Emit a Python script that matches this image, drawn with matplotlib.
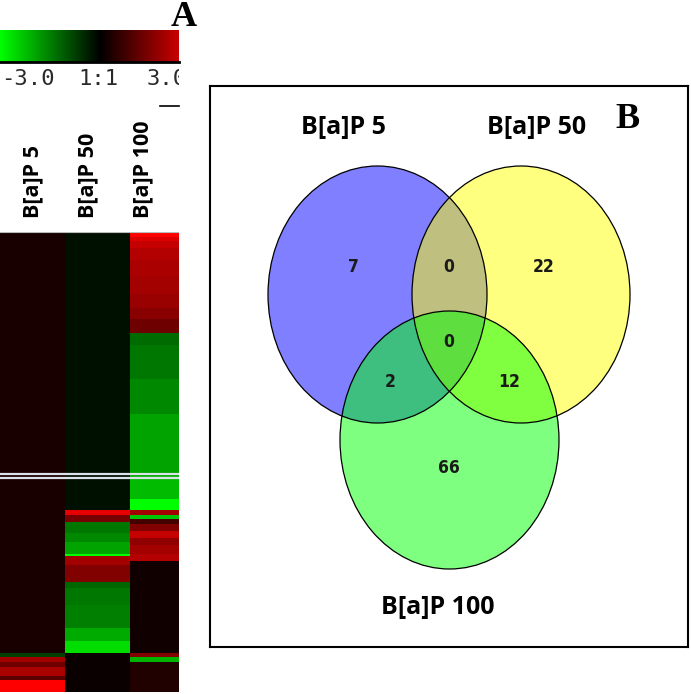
"""Heatmap of B[a]P fold changes (A) next to the Venn overlap of
responsive genes (B). Values read off the published figure."""
import matplotlib
matplotlib.use("Agg")
import matplotlib.pyplot as plt
import numpy as np
from matplotlib.colors import LinearSegmentedColormap
from matplotlib.patches import Ellipse

W, H = 691, 694

# ---- data -----------------------------------------------------------------
SAMPLES = ["B[a]P 5", "B[a]P 50", "B[a]P 100"]

# log ratios per column, stored as (value, number of rows) runs, top to bottom
BAP5_RUNS = [(0.3, 183), (-0.75, 2), (1.9, 2), (1.3, 2), (2.0, 4), (1.1, 2), (3.0, 5)]
BAP50_RUNS = [(-0.19, 121), (2.7, 2), (1.4, 3), (-1.4, 5), (-1.6, 4), (-1.9, 5),
              (-3.0, 1), (1.9, 4), (1.5, 7), (-1.2, 3), (-1.4, 7), (-1.5, 10),
              (-2.0, 6), (-2.6, 5), (0.12, 17)]
BAP100_RUNS = [(3.0, 2), (2.6, 2), (2.3, 3), (2.1, 5), (2.0, 7), (1.9, 8), (1.8, 6),
               (1.6, 5), (1.3, 6), (-1.25, 5), (-1.4, 15), (-1.6, 15), (-1.9, 27),
               (-2.2, 10), (-3.0, 5), (1.9, 2), (-2.3, 2), (0.8, 2), (1.5, 3),
               (2.3, 3), (1.7, 3), (1.9, 4), (2.1, 3), (0.19, 40), (1.5, 2),
               (-2.1, 2), (0.38, 13)]

CBAR_TICKS = ["-3.0", "1:1", "3.0"]
VMIN, VMAX = -3.0, 3.0

# Venn counts: 5 only, 5&50, 50 only, all three, 5&100, 50&100, 100 only
VENN_COUNTS = [7, 0, 22, 0, 2, 12, 66]


def expand(runs):
    return np.concatenate([np.full(n, v) for v, n in runs])


mat = np.column_stack([expand(BAP5_RUNS), expand(BAP50_RUNS), expand(BAP100_RUNS)])
n_rows = mat.shape[0]

cmap = LinearSegmentedColormap.from_list("gr", [(0, 1, 0), (0, 0, 0), (1, 0, 0)])


def box(x0, y0, x1, y1):
    """pixel box (top-left origin) -> figure rect"""
    return [x0 / W, 1 - y1 / H, (x1 - x0) / W, (y1 - y0) / H]


fig = plt.figure(figsize=(W / 100, H / 100), dpi=100)

# ---- A: colour bar (cropped at the right, like the original) ---------------
cb_right = -3 + 179 * 0.03
cax = fig.add_axes(box(0, 30, 179, 62))
grad = np.linspace(VMIN, VMAX, 256)[None, :]
cax.imshow(grad, aspect="auto", cmap=cmap, vmin=VMIN, vmax=VMAX,
           extent=(VMIN, VMAX, 0, 1))
cax.set_xlim(VMIN, cb_right)
cax.set_xticks([]); cax.set_yticks([])
for s in ["top", "left", "right"]:
    cax.spines[s].set_visible(False)
cax.spines["bottom"].set_linewidth(2)

lax = fig.add_axes(box(0, 64, 179, 92))
lax.set_xlim(VMIN, cb_right); lax.set_ylim(0, 1)
lax.axis("off")
tick_font = dict(family="DejaVu Sans Mono", fontsize=16, color="#2a2a2a",
                 va="center", clip_on=True)
lax.text(-2.97, 0.45, CBAR_TICKS[0], ha="left", **tick_font)
lax.text(-0.06, 0.45, CBAR_TICKS[1], ha="center", **tick_font)
lax.text(1.41, 0.45, CBAR_TICKS[2], ha="left", **tick_font)

fig.add_artist(plt.Line2D([160 / W, 179 / W], [1 - 106 / H] * 2, color="black", lw=1.2))
fig.text(184 / W, 1 - 17 / H, "A", family="Liberation Serif", fontweight="bold",
         fontsize=26, ha="center", va="center")

for x, lab in zip([33, 88, 143], SAMPLES):
    fig.text(x / W, 1 - 218 / H, lab, rotation=90, ha="center", va="bottom",
             family="Open Sans", fontweight="bold", fontsize=15.5)

# ---- A: heatmap ------------------------------------------------------------
hax = fig.add_axes(box(0, 232, 179, 692))
hax.imshow(mat, aspect="auto", cmap=cmap, vmin=VMIN, vmax=VMAX,
           interpolation="nearest", extent=(0, 3, n_rows, 0))
hax.set_xlim(0, 179 / 65)
hax.set_ylim(n_rows, 0)
hax.axis("off")
for yy in (105.3, 107.0):
    hax.axhline(yy, color="#dce2ea", lw=1.6)
hax.axhline(0.2, color="#bbbbbb", lw=0.8)

# ---- B: Venn ---------------------------------------------------------------
vax = fig.add_axes(box(210, 86, 688, 647))
vax.set_xlim(210, 688); vax.set_ylim(647, 86)
vax.set_xticks([]); vax.set_yticks([])
for s in vax.spines.values():
    s.set_linewidth(1.5)

ellipses = [((377.5, 294.5), 219, 257, "#0000ff"),
            ((521, 294.5), 218, 257, "#ffff00"),
            ((449.5, 440), 219, 258, "#00ff00")]
for (cx, cy), w, h, col in ellipses:
    vax.add_patch(Ellipse((cx, cy), w, h, facecolor=col, alpha=0.5, edgecolor="none"))
for (cx, cy), w, h, col in ellipses:
    vax.add_patch(Ellipse((cx, cy), w, h, facecolor="none", edgecolor="black", lw=0.9))

count_pos = [(353, 267), (449, 267), (544, 267), (449, 342),
             (390, 382), (509, 382), (449, 468)]
for (x, y), n in zip(count_pos, VENN_COUNTS):
    vax.text(x, y, str(n), ha="center", va="center", fontsize=12.5,
             family="DejaVu Sans", fontstretch="condensed", fontweight="bold",
             color="#1a1a1a")

set_label_pos = [(343, 127), (537, 127), (438, 607)]
for (x, y), lab in zip(set_label_pos, SAMPLES):
    vax.text(x, y, lab, ha="center", va="center", family="Open Sans",
             fontweight="bold", fontsize=18)
vax.text(628, 120, "B", ha="center", va="center", family="Liberation Serif",
         fontweight="bold", fontsize=26)

fig.savefig("out.png", dpi=100)
